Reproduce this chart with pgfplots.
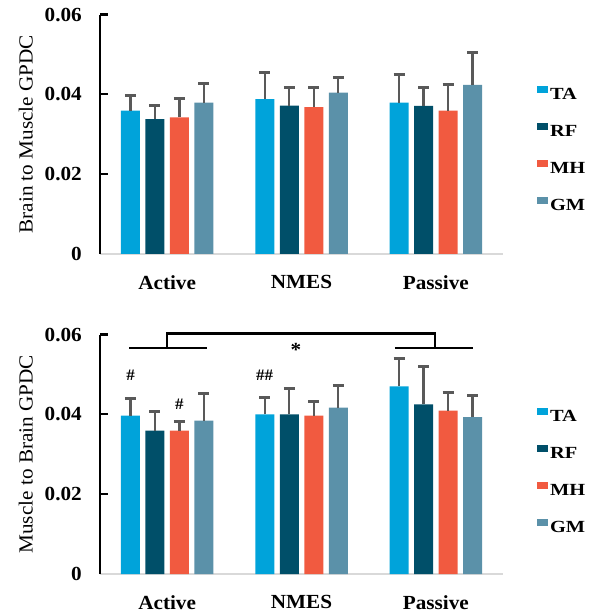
\documentclass[border=0pt]{standalone}
\usepackage{fontspec}
\setmainfont{Liberation Serif}[FakeStretch=1.06]
\newfontfamily\legf{Liberation Serif}[FakeStretch=1.2]
\usepackage{pgfplots}
\pgfplotsset{compat=1.18}
\definecolor{cTA}{HTML}{00A3DA}
\definecolor{cRF}{HTML}{004F69}
\definecolor{cMH}{HTML}{F15A40}
\definecolor{cGM}{HTML}{5B91A9}
\definecolor{errg}{HTML}{595959}
\definecolor{xaxg}{HTML}{D9D9D9}
\newcommand{\bigf}{\fontsize{20bp}{22bp}\selectfont}
\pgfplotsset{
  sq/.style={legend image code/.code={\fill[##1,draw=none] (0bp,-0.5bp) rectangle (11bp,7bp);}},
  eb/.style={draw=none, sq, error bars/.cd, y dir=plus, y explicit,
     error bar style={draw=errg, line width=2.3bp},
     error mark options={draw=errg, rotate=90, mark size=5.5bp, line width=3bp}},
  mybars/.style={
    scale only axis, width=403bp, height=239.5bp,
    xmin=-0.5, xmax=2.5, ymin=0, ymax=0.06,
    ybar=5.5bp, bar width=19bp,
    axis x line*=bottom, axis y line*=left,
    x axis line style={draw=xaxg, line width=1.5bp, -},
    y axis line style={draw=black, line width=2.4bp, -},
    xtick={0,1,2}, xticklabels={Active,NMES,Passive},
    xtick style={draw=none},
    scaled y ticks=false,
    ytick={0,0.02,0.04,0.06}, yticklabels={0,0.02,0.04,0.06},
    ytick style={draw=black, line width=2.2bp},
    major tick length=8bp, tick align=inside,
    tick label style={font=\bigf\bfseries},
    yticklabel style={inner sep=0pt, xshift=-18bp},
    xticklabel style={inner sep=0pt, yshift=-21bp},
    label style={font=\bigf},
    ylabel style={at={(axis description cs:-0.184,0.5)}, anchor=center},
    legend style={at={(axis description cs:1.084,0.441)}, anchor=west,
      draw=none, fill=none, inner sep=0pt, row sep=20bp,
      nodes={inner sep=2bp, text height=13bp, text depth=0bp, font=\legf\fontsize{17bp}{19bp}\selectfont\bfseries}},
    legend cell align=left,
    clip=false,
  }
}
\begin{document}
\begin{tikzpicture}
\path[use as bounding box] (0,0) rectangle (596bp,613bp);
% top panel
\begin{axis}[mybars, at={(100bp,359bp)}, anchor=south west, ylabel={Brain to Muscle GPDC}]
\addplot[fill=cTA, eb] coordinates {(0,0.0359) +- (0,0.0039) (1,0.0388) +- (0,0.0067) (2,0.0379) +- (0,0.0071)};
\addplot[fill=cRF, eb] coordinates {(0,0.0338) +- (0,0.0035) (1,0.0372) +- (0,0.0046) (2,0.0371) +- (0,0.0047)};
\addplot[fill=cMH, eb] coordinates {(0,0.0342) +- (0,0.0047) (1,0.0368) +- (0,0.0050) (2,0.0359) +- (0,0.0066)};
\addplot[fill=cGM, eb] coordinates {(0,0.0379) +- (0,0.0047) (1,0.0404) +- (0,0.0037) (2,0.0424) +- (0,0.0080)};
\legend{TA,RF,MH,GM}
\end{axis}
% bottom panel
\begin{axis}[mybars, at={(100bp,39bp)}, anchor=south west, ylabel={Muscle to Brain GPDC},
   legend style={at={(axis description cs:1.084,0.434)}}]
\addplot[fill=cTA, eb] coordinates {(0,0.0397) +- (0,0.0042) (1,0.0400) +- (0,0.0043) (2,0.0470) +- (0,0.0071)};
\addplot[fill=cRF, eb] coordinates {(0,0.0359) +- (0,0.0048) (1,0.0400) +- (0,0.0064) (2,0.0425) +- (0,0.0095)};
\addplot[fill=cMH, eb] coordinates {(0,0.0359) +- (0,0.0023) (1,0.0397) +- (0,0.0035) (2,0.0409) +- (0,0.0046)};
\addplot[fill=cGM, eb] coordinates {(0,0.0384) +- (0,0.0067) (1,0.0417) +- (0,0.0054) (2,0.0393) +- (0,0.0053)};
\legend{TA,RF,MH,GM}
\draw[line width=2.5bp] (axis cs:-0.284,0.0566) -- (axis cs:0.297,0.0566);
\draw[line width=2.5bp] (axis cs:1.696,0.0566) -- (axis cs:2.277,0.0566);
\draw[line width=2.5bp] (axis cs:0,0.0566) -- (axis cs:0,0.0603) -- (axis cs:1.994,0.0603) -- (axis cs:1.994,0.0566);
\node[font=\fontsize{20bp}{20bp}\selectfont\bfseries] at (axis cs:0.959,0.0562) {*};
\node[font=\fontsize{16bp}{16bp}\selectfont\bfseries] at (axis cs:-0.273,0.0499) {\#};
\node[font=\fontsize{16bp}{16bp}\selectfont\bfseries] at (axis cs:0.091,0.0426) {\#};
\node[font=\fontsize{16bp}{16bp}\selectfont\bfseries] at (axis cs:0.726,0.0499) {\#\#};
\end{axis}
\end{tikzpicture}
\end{document}
